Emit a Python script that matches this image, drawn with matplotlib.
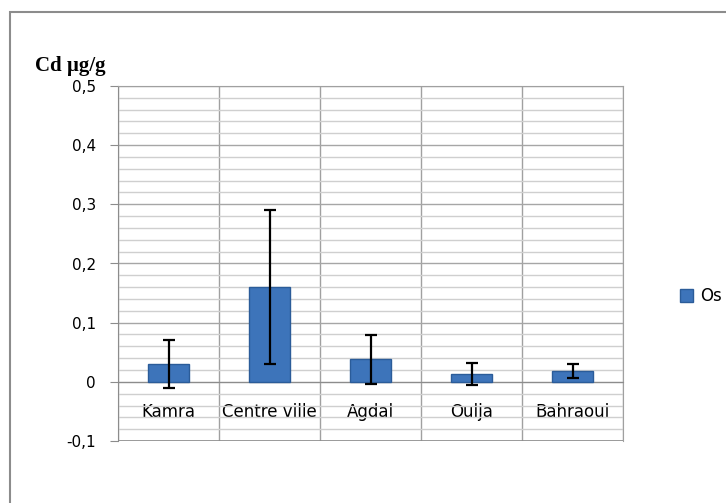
import matplotlib
matplotlib.use("Agg")
import matplotlib.pyplot as plt
from matplotlib.patches import Rectangle
import numpy as np

sites = ["Kamra", "Centre ville", "Agdal", "Oulja", "Bahraoui"]
cd_mean = [0.030, 0.160, 0.038, 0.013, 0.018]
cd_err = [0.040, 0.130, 0.042, 0.019, 0.012]
y_ticks = [-0.1, 0, 0.1, 0.2, 0.3, 0.4, 0.5]
y_labels = ["-0,1", "0", "0,1", "0,2", "0,3", "0,4", "0,5"]
series_name = "Os"

fig = plt.figure(figsize=(7.26, 5.03), dpi=100)
# outer chart frame (right/bottom fall off the image)
fig.patches.append(Rectangle((10 / 726, -0.1), 1.0, 1 - 12 / 503 + 0.1,
                             transform=fig.transFigure, fill=False,
                             edgecolor="#8c8c8c", linewidth=1.5))

ax = fig.add_axes([118 / 726, 62 / 503, 505 / 726, 355 / 503])
x = np.arange(len(sites))
ax.bar(x, cd_mean, width=0.41, color="#3D74BA", edgecolor="#2B5C99",
       linewidth=1.0, zorder=3, label=series_name)
ax.errorbar(x, cd_mean, yerr=cd_err, fmt="none", ecolor="black",
            elinewidth=1.6, capsize=4, capthick=1.6, zorder=4)

ax.set_xlim(-0.5, len(sites) - 0.5)
ax.set_ylim(-0.1, 0.5)
ax.set_yticks(y_ticks)
ax.set_yticklabels(y_labels)
ax.set_yticks(np.arange(-0.1, 0.5, 0.02), minor=True)
ax.set_xticks(x)
ax.set_xticklabels(sites)
ax.set_xticks(np.arange(-0.5, len(sites), 1.0), minor=True)

ax.spines["bottom"].set_position(("data", 0))
for s in ax.spines.values():
    s.set_color("#8c8c8c")
ax.spines["top"].set_color("#a0a0a0")
ax.spines["right"].set_color("#a0a0a0")
ax.tick_params(axis="x", which="both", length=0, pad=15, labelsize=12)
ax.tick_params(axis="y", which="major", length=6, color="#8c8c8c", pad=10,
               labelsize=11)
ax.tick_params(axis="y", which="minor", length=0)

ax.grid(axis="y", which="major", color="#a6a6a6", linewidth=1.0, zorder=0)
ax.grid(axis="y", which="minor", color="#cfcfcf", linewidth=1.0, zorder=0)
ax.grid(axis="x", which="minor", color="#a0a0a0", linewidth=1.0, zorder=0)
ax.set_axisbelow(True)
ax.axhline(-0.1, color="#8c8c8c", linewidth=1.2, zorder=1)

fig.text(35 / 726, 1 - 66 / 503, "Cd µg/g", fontsize=15, fontweight="bold",
         family="Liberation Serif", va="center", ha="left")

fig.legend(loc="center left", bbox_to_anchor=(680 / 726, 1 - 296 / 503),
           frameon=False, fontsize=12, handlelength=0.8, handleheight=0.8,
           handletextpad=0.4, borderpad=0, borderaxespad=0)

fig.savefig("out.png", dpi=100)
